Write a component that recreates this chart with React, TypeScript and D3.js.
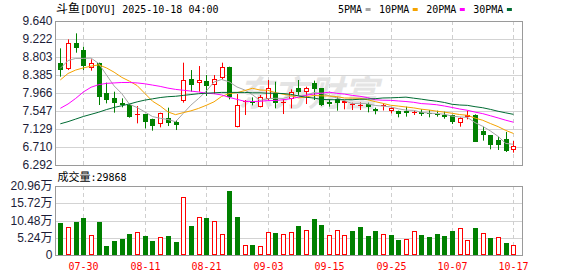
import React from 'react';
import * as d3 from 'd3';

const dates = ['07-25','07-28','07-29','07-30','07-31','08-01','08-04','08-05','08-06','08-07','08-08','08-11','08-12','08-13','08-14','08-15','08-18','08-19','08-20','08-21','08-22','08-25','08-26','08-27','08-28','08-29','09-02','09-03','09-04','09-05','09-08','09-09','09-10','09-11','09-12','09-15','09-16','09-17','09-18','09-19','09-22','09-23','09-24','09-25','09-26','09-29','09-30','10-01','10-02','10-03','10-06','10-07','10-08','10-09','10-10','10-13','10-14','10-15','10-16','10-17'];

const openP = [8.671,8.516,9.120,8.965,8.539,8.655,7.973,7.842,7.725,7.679,7.462,7.470,7.353,7.245,7.377,7.299,7.787,8.291,8.206,8.245,8.159,8.307,8.562,7.167,7.749,7.780,7.648,7.834,7.973,7.725,7.818,8.074,7.989,8.190,8.074,7.749,7.818,7.741,7.687,7.680,7.702,7.594,7.660,7.555,7.547,7.540,7.493,7.524,7.500,7.478,7.462,7.455,7.261,7.416,7.455,7.091,6.990,6.873,6.889,6.641];
const highP = [9.004,9.213,9.353,9.043,8.748,8.671,8.206,7.997,7.842,7.710,7.663,7.470,7.369,7.508,7.625,7.338,8.671,8.500,8.593,8.384,8.384,8.671,8.578,7.942,7.803,7.865,7.919,8.268,8.229,7.818,8.051,8.268,8.113,8.253,8.082,7.818,7.865,7.788,7.741,7.749,7.741,7.625,7.720,7.633,7.555,7.648,7.555,7.587,7.571,7.555,7.532,7.462,7.400,7.555,7.470,7.183,6.990,6.951,7.060,6.850];
const lowP = [8.345,8.500,8.903,8.500,8.485,7.687,7.725,7.509,7.632,7.392,7.260,7.144,7.090,7.167,7.198,7.105,7.741,7.997,7.997,7.896,7.942,8.283,7.818,7.167,7.454,7.679,7.632,7.787,7.609,7.477,7.609,7.896,7.710,7.803,7.663,7.648,7.555,7.586,7.570,7.570,7.516,7.470,7.560,7.493,7.400,7.416,7.455,7.431,7.400,7.416,7.369,7.245,7.183,7.354,6.827,6.858,6.656,6.641,6.594,6.579];
const closeP = [8.500,9.120,9.020,8.593,8.655,7.865,7.803,7.741,7.694,7.415,7.485,7.299,7.198,7.493,7.276,7.222,8.268,8.159,8.268,8.128,8.283,8.562,7.880,7.679,7.780,7.741,7.880,8.090,7.725,7.764,7.997,7.981,8.090,8.051,7.679,7.702,7.741,7.772,7.702,7.695,7.648,7.555,7.690,7.609,7.485,7.500,7.524,7.485,7.475,7.447,7.416,7.300,7.385,7.447,6.835,6.990,6.757,6.765,6.625,6.742];
// volume in 万
const volume = [9.78,8.57,10.08,11.29,6.15,10.08,2.82,4.33,4.74,6.45,6.96,5.85,4.33,5.44,5.85,4.03,17.64,8.87,11.49,11.29,10.38,6.35,19.46,11.59,3.02,3.13,2.72,6.96,6.75,6.35,6.96,8.87,7.66,10.99,9.17,6.05,7.66,6.05,7.36,8.57,5.85,7.36,6.45,6.15,4.64,4.94,7.36,6.15,5.54,6.45,5.85,7.36,8.27,4.64,8.27,6.75,5.24,5.54,3.73,2.99];
const latestVolumeLabel = '29868';

const ma5 = [8.54,8.72,8.77,8.77,8.778,8.651,8.387,8.131,7.952,7.704,7.628,7.527,7.418,7.378,7.350,7.298,7.491,7.684,7.839,8.009,8.221,8.280,8.224,8.106,8.037,7.928,7.792,7.834,7.843,7.840,7.891,7.911,7.911,7.977,7.960,7.901,7.853,7.789,7.719,7.725,7.715,7.677,7.661,7.643,7.599,7.568,7.562,7.519,7.498,7.489,7.473,7.428,7.410,7.399,7.277,7.191,7.083,6.957,6.793,6.774];
const ma10 = [8.27,8.42,8.50,8.55,8.59,8.62,8.55,8.45,8.33,8.241,8.139,7.957,7.775,7.665,7.527,7.463,7.509,7.551,7.608,7.680,7.760,7.886,7.954,7.973,8.023,8.075,8.036,8.029,7.975,7.938,7.910,7.852,7.873,7.910,7.900,7.896,7.882,7.850,7.848,7.843,7.808,7.765,7.725,7.681,7.662,7.641,7.620,7.590,7.570,7.544,7.521,7.495,7.465,7.448,7.383,7.332,7.256,7.184,7.096,7.025];
const ma20 = [7.61,7.71,7.84,7.99,8.10,8.16,8.19,8.20,8.21,8.21,8.20,8.18,8.15,8.12,8.08,8.05,8.03,8.01,7.99,7.960,7.949,7.921,7.864,7.818,7.774,7.768,7.772,7.790,7.791,7.809,7.834,7.869,7.913,7.941,7.961,7.985,7.959,7.940,7.911,7.890,7.859,7.808,7.798,7.795,7.781,7.768,7.750,7.720,7.709,7.693,7.664,7.630,7.594,7.564,7.522,7.486,7.437,7.386,7.333,7.287];
const ma30 = [7.25,7.30,7.36,7.42,7.47,7.52,7.58,7.63,7.67,7.71,7.76,7.80,7.83,7.86,7.88,7.89,7.91,7.93,7.95,7.96,7.97,7.98,7.98,7.98,7.98,7.97,7.97,7.96,7.96,7.953,7.936,7.898,7.867,7.849,7.816,7.811,7.809,7.810,7.810,7.820,7.825,7.834,7.850,7.854,7.861,7.870,7.846,7.823,7.797,7.775,7.746,7.704,7.687,7.679,7.648,7.623,7.585,7.541,7.504,7.470];

const priceTicks = [9.640,9.222,8.803,8.385,7.966,7.547,7.129,6.710,6.292];
const priceTickLabels = ['9.640','9.222','8.803','8.385','7.966','7.547','7.129','6.710','6.292'];
const volTicks = [20.96,15.72,10.48,5.24,0];
const volTickLabels = ['20.96万','15.72万','10.48万','5.24万','0'];
const xLabelDates = ['07-30','08-11','08-21','09-03','09-15','09-25','10-07','10-17'];

const maSeries = [
  { name: '5PMA', values: ma5, color: '#a6a6a6' },
  { name: '10PMA', values: ma10, color: '#f5a300' },
  { name: '20PMA', values: ma20, color: '#ff00ff' },
  { name: '30PMA', values: ma30, color: '#006b33' },
];

const W = 578, H = 276;
const L = 56, R = 522;
const PT = 21, PB = 165;
const VT = 186, VB = 255;
const RED = '#ff0000', GREEN = '#008000';
const MONO = '"DejaVu Sans Mono", monospace';
const SANS = '"Liberation Sans", Arial, sans-serif';
const CJK = '"Noto Sans CJK SC", sans-serif';

export default function App() {
  const x = d3.scaleBand<string>().domain(dates).range([56.5, 517.3]).padding(0);
  const cx = (d: string) => Math.round((x(d) as number) + x.bandwidth() / 2) + 0.5;
  const y = d3.scaleLinear().domain([6.292, 9.640]).range([PB, PT]);
  const yv = d3.scaleLinear().domain([0, 20.96]).range([VB, VT]);
  const crisp = (v: number) => Math.round(v) + 0.5;

  const line = (vals: number[]) =>
    d3.line<number>().x((_, i) => (x(dates[i]) as number) + x.bandwidth() / 2).y((v) => y(v))(vals) || '';

  const legendItems: { name: string; color: string; tx: number; sx: number }[] = [];
  let lx = 338;
  maSeries.forEach((s) => {
    const tw = s.name.length * 6.02;
    legendItems.push({ name: s.name, color: s.color, tx: lx, sx: lx + tw + 3.5 });
    lx = lx + tw + 3.5 + 5 + 8.5;
  });

  return (
    <svg width={W} height={H} style={{ position: 'absolute', left: 0, top: 0, background: '#fff' }}>
      <rect x={0} y={0} width={W} height={H} fill="#fff" />
      {/* title */}
      <text x={56} y={13} fontFamily={MONO} fontSize={10} fill="#000">
        <tspan fontFamily={CJK} fontSize={12}>斗鱼</tspan>
        <tspan>[DOYU] 2025-10-18 04:00</tspan>
      </text>
      {/* legend */}
      {legendItems.map((it) => (
        <g key={it.name}>
          <text x={it.tx} y={13} fontFamily={MONO} fontSize={10} fill="#000">{it.name}</text>
          <rect x={it.sx} y={8} width={5} height={3} fill={it.color} />
        </g>
      ))}

      {/* price grid */}
      {priceTicks.map((t) => (
        <line key={'pg' + t} x1={L} x2={R} y1={crisp(y(t))} y2={crisp(y(t))} stroke="#d3d3d3" />
      ))}
      {priceTicks.map((t, i) => (
        <text key={'pl' + t} x={52.5} y={y(t)} dy="0.35em" textAnchor="end" fontFamily={SANS} fontSize={12} fill="#1c1c38">
          {priceTickLabels[i]}
        </text>
      ))}
      {/* volume grid */}
      {volTicks.map((t) => (
        <line key={'vg' + t} x1={L} x2={R} y1={crisp(yv(t))} y2={crisp(yv(t))} stroke="#d3d3d3" />
      ))}
      {volTicks.map((t, i) => {
        const lbl = volTickLabels[i];
        const hasWan = lbl.endsWith('万');
        return (
          <text key={'vl' + t} x={52.5} y={yv(t)} dy="0.35em" textAnchor="end" fontFamily={SANS} fontSize={12} fill="#1c1c38">
            {hasWan ? lbl.slice(0, -1) : lbl}
            {hasWan ? <tspan fontFamily={CJK}>万</tspan> : null}
          </text>
        );
      })}
      {/* vertical dashed + x labels */}
      {xLabelDates.map((d) => (
        <g key={'vd' + d}>
          <line x1={cx(d)} x2={cx(d)} y1={PT} y2={PB} stroke="#cfcfcf" strokeDasharray="4,3" />
          <line x1={cx(d)} x2={cx(d)} y1={VT} y2={VB} stroke="#cfcfcf" strokeDasharray="4,3" />
          <text x={cx(d)} y={269.5} textAnchor="middle" fontFamily={MONO} fontSize={10} fill={RED}>{d}</text>
        </g>
      ))}
      {/* watermark */}
      <text x={308} y={106} textAnchor="middle" fontFamily={CJK} fontSize={35} fontWeight="bold" fontStyle="italic" fill="#e4e4e4">东方财富</text>

      {/* candles */}
      {dates.map((d, i) => {
        const o = openP[i], c = closeP[i], h = highP[i], l = lowP[i];
        const up = c >= o;
        const xc = cx(d);
        const yTop = Math.round(y(Math.max(o, c)));
        const yBot = Math.round(y(Math.min(o, c)));
        const bh = Math.max(1, yBot - yTop);
        if (up) {
          return (
            <g key={'c' + d}>
              <line x1={xc} x2={xc} y1={y(h)} y2={yTop} stroke={RED} />
              <line x1={xc} x2={xc} y1={yTop + bh} y2={y(l)} stroke={RED} />
              {bh <= 1 ? (
                <line x1={xc - 2.5} x2={xc + 2.5} y1={yTop + 0.5} y2={yTop + 0.5} stroke={RED} />
              ) : (
                <rect x={xc - 2} y={yTop + 0.5} width={4} height={bh - 1} fill="#fff" stroke={RED} />
              )}
            </g>
          );
        }
        return (
          <g key={'c' + d}>
            <line x1={xc} x2={xc} y1={y(h)} y2={y(l)} stroke={GREEN} />
            <rect x={xc - 2.5} y={yTop} width={5} height={bh} fill={GREEN} />
          </g>
        );
      })}

      {/* moving averages */}
      {maSeries.map((s) => (
        <path key={s.name} d={line(s.values)} fill="none" stroke={s.color} strokeWidth={1} />
      ))}

      {/* volume bars */}
      {dates.map((d, i) => {
        const up = i > 0 ? closeP[i] >= closeP[i - 1] : closeP[0] >= openP[0];
        const xc = cx(d);
        const top = Math.round(yv(volume[i]));
        const bottom = Math.round(yv(0));
        if (up) {
          return <rect key={'v' + d} x={xc - 2} y={top + 0.5} width={4} height={bottom - top - 1} fill="#fff" stroke={RED} />;
        }
        return <rect key={'v' + d} x={xc - 2.5} y={top} width={5} height={bottom - top} fill={GREEN} />;
      })}

      {/* frames */}
      <rect x={L - 0.5} y={PT + 0.5} width={R - L + 1} height={PB - PT} fill="none" stroke="#9a9a9a" />
      <rect x={L - 0.5} y={VT + 0.5} width={R - L + 1} height={VB - VT} fill="none" stroke="#9a9a9a" />

      {/* volume header */}
      <text x={57.5} y={181} fontFamily={MONO} fontSize={10} fill="#000">
        <tspan fontFamily={CJK} fontSize={11}>成交量</tspan>
        <tspan>:{latestVolumeLabel}</tspan>
      </text>
    </svg>
  );
}
